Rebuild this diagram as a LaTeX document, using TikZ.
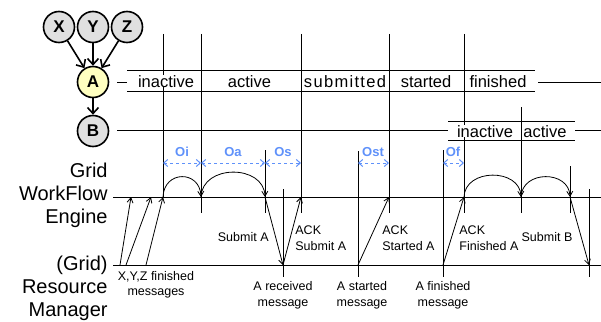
\documentclass[tikz,border=0pt]{standalone}
\usepackage{fontspec}
\setmainfont{Liberation Sans}
\usetikzlibrary{arrows.meta}
\definecolor{gapblue}{RGB}{95,145,250}
\definecolor{nodegray}{RGB}{224,224,224}
\definecolor{nodeyellow}{RGB}{255,255,192}

\begin{document}
\begin{tikzpicture}[x=1pt,y=-1pt,line width=0.8pt,
  job/.style={circle,draw,line width=1.6pt,fill=nodegray,minimum size=31pt,inner sep=0pt,
    font=\fontsize{17}{17}\selectfont\bfseries},
  dep/.style={line width=1.6pt,-{Straight Barb[length=6pt,width=11pt]}},
  msg/.style={line width=0.8pt,-{Straight Barb[length=5pt,width=6pt]}},
  gaparr/.style={gapblue,dashed,line width=1pt,
    {Straight Barb[length=4pt,width=7pt]}-{Straight Barb[length=4pt,width=7pt]}},
  gaplbl/.style={text=gapblue,font=\fontsize{13}{13}\selectfont\bfseries,inner sep=0pt},
  phase/.style={inner xsep=0pt,inner ysep=0pt,text height=12pt,text depth=0pt,
    font=\fontsize{16.5}{16.5}\selectfont},
  lbl/.style={font=\fontsize{12.5}{15.5}\selectfont,inner sep=0pt},
  rowlbl/.style={font=\fontsize{20}{23}\selectfont,align=right,anchor=east,inner sep=0pt}
]
\useasboundingbox (0,0) rectangle (601,321);

% job dependency graph
\node[job] (X) at (59,27) {X};
\node[job] (Y) at (93,27) {Y};
\node[job] (Z) at (127,27) {Z};
\node[job,fill=nodeyellow] (A) at (93,82) {A};
\node[job] (B) at (93,131) {B};
\draw[dep] (X) -- (A);
\draw[dep] (Y) -- (A);
\draw[dep] (Z) -- (A);
\draw[dep] (A) -- (B);

% state bands of A and B
\draw (117,82) -- (127,82);
\draw (127,70) -- (535,70);
\draw (127,91) -- (535,91);
\draw (538,82) -- (601,82);
\draw (117,130) -- (448,130);
\draw (448,121) -- (575,121);
\draw (448,140) -- (575,140);
\draw (575,130) -- (601,130);

% engine and resource manager lines
\draw (113,197) -- (601,197);
\draw (113,265) -- (601,265);

% event marks
\foreach \x/\a/\b in {163/34/197, 201/34/213, 265/150/213, 283/189/277,
    301/34/213, 358/151/277, 389/34/213, 443/150/277, 464/34/213,
    521/107/213, 570/166/213, 589/189/277}
  \draw (\x,\a) -- (\x,\b);

% state names
\node[phase,fill=white] (pInactive) at (166,81) {inactive};
\node[phase] (pActive) at (249.5,81) {active};
\node[phase] (pSubmitted) at (345,81) {\addfontfeature{LetterSpace=8}submitted};
\node[phase] (pStarted) at (426,81) {started};
\node[phase] (pFinished) at (498,81) {finished};
\node[phase,fill=white] (bInactive) at (485,131) {inactive};
\node[phase] (bActive) at (545,131) {active};

% overhead intervals
\coordinate (o163) at (163,163);
\coordinate (o201) at (201,163);
\coordinate (o265) at (265,163);
\coordinate (o301) at (301,163);
\coordinate (o358) at (358,163);
\coordinate (o389) at (389,163);
\coordinate (o443) at (443,163);
\coordinate (o464) at (464,163);
\draw[gaparr] (o163) -- (o201);
\draw[gaparr] (o201) -- (o265);
\draw[gaparr] (o265) -- (o301);
\draw[gaparr] (o358) -- (o389);
\draw[gaparr] (o443) -- (o464);
\node[gaplbl] (lOi) at (182,152) {Oi};
\node[gaplbl] (lOa) at (233,152) {Oa};
\node[gaplbl] (lOs) at (283,152) {Os};
\node[gaplbl] (lOst) at (373,152) {Ost};
\node[gaplbl] (lOf) at (453,152) {Of};

% points on the engine line
\foreach \x in {131,151,163,201,265,301,389,464,521,570}
  \coordinate (E\x) at (\x,197);
% points on the resource manager line
\foreach \x in {120,126,146,283,358,443,589}
  \coordinate (R\x) at (\x,265);

% messages
\draw[msg] (R120) -- (E131);
\draw[msg] (R126) -- (E151);
\draw[msg] (R146) -- (E163);
\draw[msg] (E265) -- (R283);
\draw[msg] (R283) -- (E301);
\draw[msg] (R358) -- (E389);
\draw[msg] (R443) -- (E464);
\draw[msg] (E570) -- (R589);

% engine processing steps
\draw[msg] (E163) .. controls +(1,-27) and +(-1,-27) .. (E201);
\draw[msg] (E201) .. controls +(1,-33) and +(-1,-33) .. (E265);
\draw[msg] (E464) .. controls +(1,-29) and +(-1,-29) .. (E521);
\draw[msg] (E521) .. controls +(1,-27) and +(-1,-27) .. (E570);

% message labels
\node[lbl,anchor=east] (tSubA) at (269,237) {Submit A};
\node[lbl,anchor=west,align=left] (tAckS) at (295,238) {ACK\\Submit A};
\node[lbl,anchor=west,align=left] (tAckSt) at (382,238) {ACK\\Started A};
\node[lbl,anchor=west,align=left] (tAckF) at (459,238) {ACK\\Finished A};
\node[lbl] (tSubB) at (547,237) {Submit B};
\node[lbl,align=center] (tXYZ) at (156,285) {X,Y,Z finished\\messages};
\node[lbl,align=center] (tArec) at (283,295.5) {A received\\message};
\node[lbl,align=center] (tAsta) at (362,295.5) {A started\\message};
\node[lbl,align=center] (tAfin) at (443,295.5) {A finished\\message};

% row names
\node[rowlbl] (rEngine) at (108,195) {Grid\\WorkFlow\\Engine};
\node[rowlbl] (rManager) at (108,288) {(Grid)\\Resource\\Manager};
\end{tikzpicture}
\end{document}
